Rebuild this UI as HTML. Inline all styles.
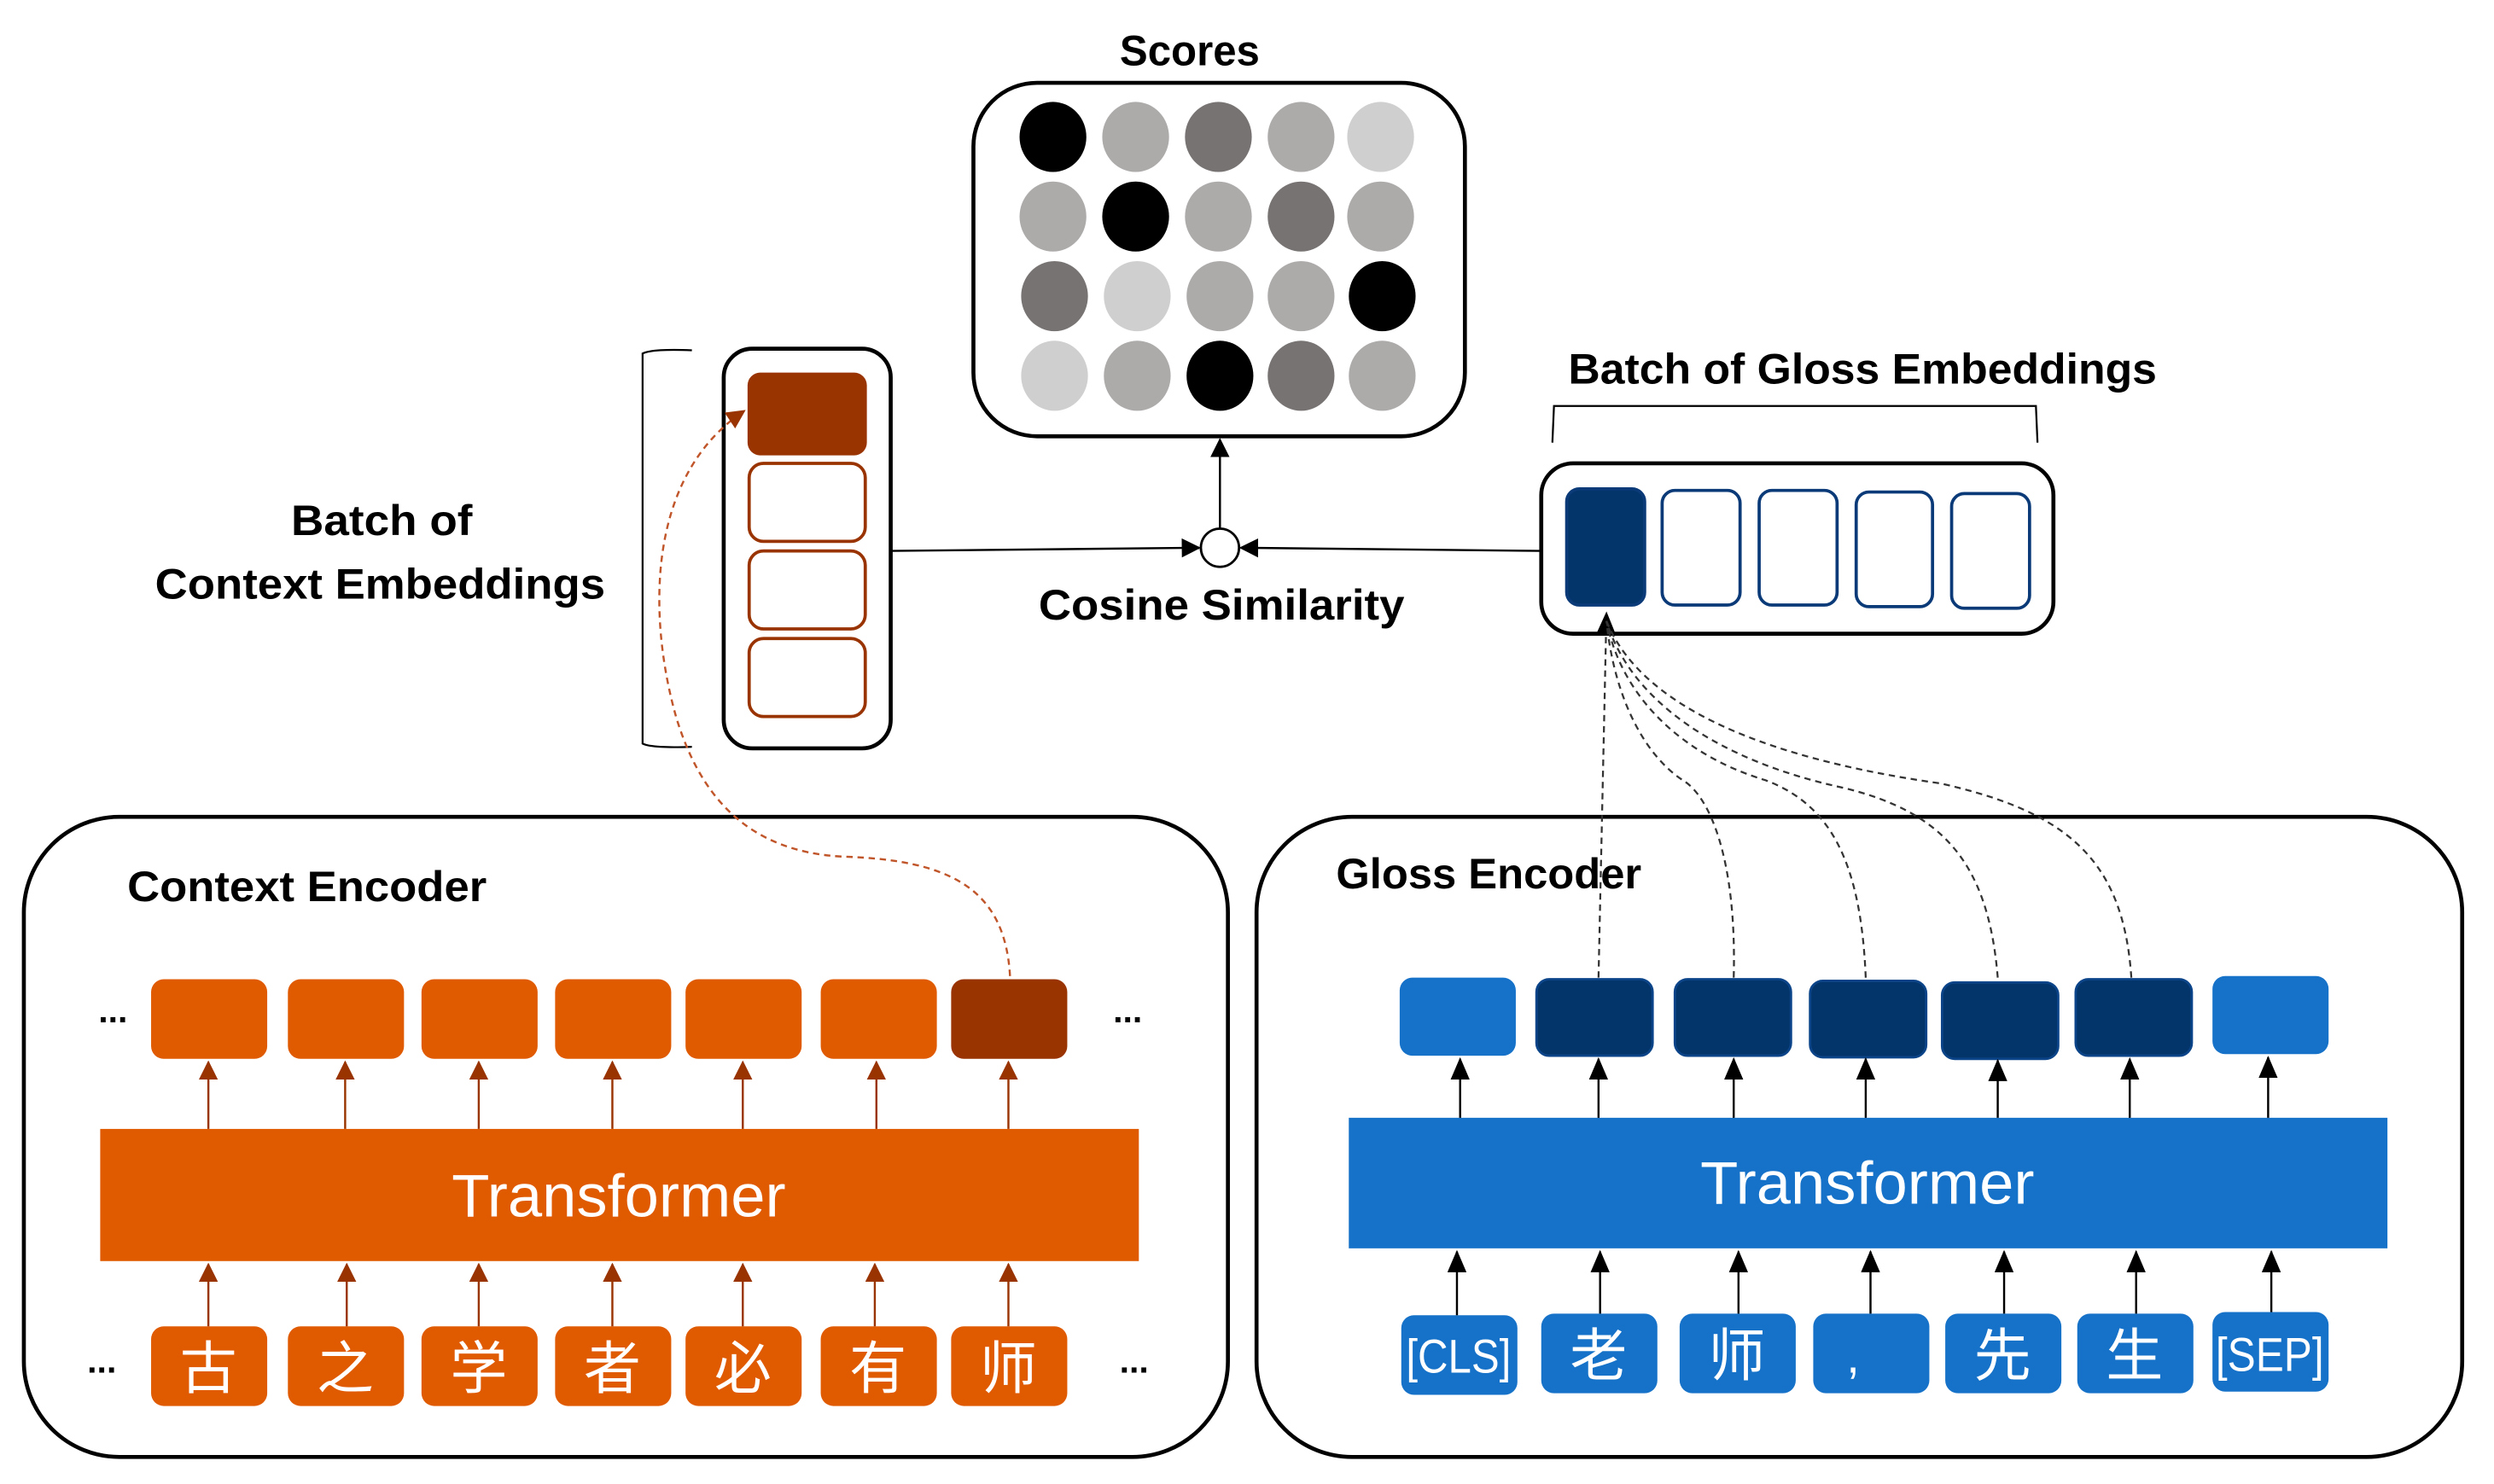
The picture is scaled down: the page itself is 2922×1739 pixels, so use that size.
<!DOCTYPE html>
<html><head><meta charset="utf-8"><style>
html,body{margin:0;padding:0;background:#fff;}
svg{display:block;}
text{font-family:"Liberation Sans","Noto Sans CJK SC",sans-serif;}
</style></head><body>
<svg width="2922" height="1739" viewBox="0 0 1568 932" preserveAspectRatio="none" xmlns="http://www.w3.org/2000/svg">
<defs>
<marker id="ab" markerWidth="12" markerHeight="12" refX="11" refY="6" orient="auto" markerUnits="userSpaceOnUse"><path d="M0,0 L12,6 L0,12 Z" fill="#000"/></marker>
<marker id="ao" markerWidth="12" markerHeight="12" refX="11" refY="6" orient="auto" markerUnits="userSpaceOnUse"><path d="M0,0 L12,6 L0,12 Z" fill="#993300"/></marker>
<marker id="ak" markerWidth="14" markerHeight="12" refX="13" refY="6" orient="auto" markerUnits="userSpaceOnUse"><path d="M0,0 L14,6 L0,12 Z" fill="#000"/></marker>
</defs>

<!-- Scores -->
<text x="748" y="41" text-anchor="middle" font-size="27" font-weight="bold" textLength="88" lengthAdjust="spacingAndGlyphs">Scores</text>
<rect x="612" y="52" width="309" height="222" rx="40" fill="#fff" stroke="#000" stroke-width="2.5"/>
<g>
<ellipse cx="662" cy="86" rx="21" ry="22" fill="#000"/>
<ellipse cx="714" cy="86" rx="21" ry="22" fill="#adaaaa"/>
<ellipse cx="766" cy="86" rx="21" ry="22" fill="#787373"/>
<ellipse cx="818" cy="86" rx="21" ry="22" fill="#adaaaa"/>
<ellipse cx="868" cy="86" rx="21" ry="22" fill="#d0cfcf"/>
<ellipse cx="662" cy="136" rx="21" ry="22" fill="#adaaaa"/>
<ellipse cx="714" cy="136" rx="21" ry="22" fill="#000"/>
<ellipse cx="766" cy="136" rx="21" ry="22" fill="#adaaaa"/>
<ellipse cx="818" cy="136" rx="21" ry="22" fill="#787373"/>
<ellipse cx="868" cy="136" rx="21" ry="22" fill="#adaaaa"/>
<ellipse cx="663" cy="186" rx="21" ry="22" fill="#787373"/>
<ellipse cx="715" cy="186" rx="21" ry="22" fill="#d0cfcf"/>
<ellipse cx="767" cy="186" rx="21" ry="22" fill="#adaaaa"/>
<ellipse cx="818" cy="186" rx="21" ry="22" fill="#adaaaa"/>
<ellipse cx="869" cy="186" rx="21" ry="22" fill="#000"/>
<ellipse cx="663" cy="236" rx="21" ry="22" fill="#d0cfcf"/>
<ellipse cx="715" cy="236" rx="21" ry="22" fill="#adaaaa"/>
<ellipse cx="767" cy="236" rx="21" ry="22" fill="#000"/>
<ellipse cx="818" cy="236" rx="21" ry="22" fill="#787373"/>
<ellipse cx="869" cy="236" rx="21" ry="22" fill="#adaaaa"/>
</g>

<!-- cosine -->
<line x1="767" y1="332" x2="767" y2="276" stroke="#000" stroke-width="1.3" marker-end="url(#ab)"/>
<circle cx="767" cy="344" r="12" fill="#fff" stroke="#000" stroke-width="1.5"/>
<line x1="560" y1="346" x2="754" y2="344" stroke="#000" stroke-width="1.3" marker-end="url(#ab)"/>
<line x1="969" y1="346" x2="780" y2="344" stroke="#000" stroke-width="1.3" marker-end="url(#ab)"/>
<text x="768" y="389" text-anchor="middle" font-size="27" font-weight="bold" textLength="230" lengthAdjust="spacingAndGlyphs">Cosine Similarity</text>

<!-- context batch -->
<path d="M435,220 Q410,219 404,222 L404,467 Q410,470 435,469" fill="none" stroke="#000" stroke-width="1.2"/>
<text x="240" y="336" text-anchor="middle" font-size="27" font-weight="bold" textLength="114" lengthAdjust="spacingAndGlyphs">Batch of</text>
<text x="239" y="376" text-anchor="middle" font-size="27" font-weight="bold" textLength="283" lengthAdjust="spacingAndGlyphs">Context Embeddings</text>
<rect x="455" y="219" width="105" height="251" rx="18" fill="#fff" stroke="#000" stroke-width="2.5"/>
<rect x="470" y="234" width="75" height="52" rx="8" fill="#993300"/>
<rect x="471" y="291" width="73" height="49" rx="9" fill="#fff" stroke="#993300" stroke-width="2"/>
<rect x="471" y="346" width="73" height="49" rx="9" fill="#fff" stroke="#993300" stroke-width="2"/>
<rect x="471" y="401" width="73" height="49" rx="9" fill="#fff" stroke="#993300" stroke-width="2"/>

<!-- gloss batch -->
<path d="M976,278 L977,255 L1280,255 L1281,278" fill="none" stroke="#000" stroke-width="1.2"/>
<text x="1171" y="241" text-anchor="middle" font-size="27" font-weight="bold" textLength="370" lengthAdjust="spacingAndGlyphs">Batch of Gloss Embeddings</text>
<rect x="969" y="291" width="322" height="107" rx="20" fill="#fff" stroke="#000" stroke-width="2.5"/>
<rect x="985" y="307" width="49" height="73" rx="8" fill="#03356a" stroke="#0b3a78" stroke-width="2"/>
<rect x="1045" y="308" width="49" height="72" rx="8" fill="#fff" stroke="#0b3a78" stroke-width="2"/>
<rect x="1106" y="308" width="49" height="72" rx="8" fill="#fff" stroke="#0b3a78" stroke-width="2"/>
<rect x="1167" y="309" width="48" height="72" rx="8" fill="#fff" stroke="#0b3a78" stroke-width="2"/>
<rect x="1227" y="310" width="49" height="72" rx="8" fill="#fff" stroke="#0b3a78" stroke-width="2"/>

<!-- context encoder -->
<rect x="15" y="513" width="757" height="402" rx="60" fill="#fff" stroke="#000" stroke-width="2.5"/>
<text x="80" y="566" font-size="27" font-weight="bold" textLength="226" lengthAdjust="spacingAndGlyphs">Context Encoder</text>
<g fill="#e05a00">
<rect x="95" y="615" width="73" height="50" rx="8"/>
<rect x="181" y="615" width="73" height="50" rx="8"/>
<rect x="265" y="615" width="73" height="50" rx="8"/>
<rect x="349" y="615" width="73" height="50" rx="8"/>
<rect x="431" y="615" width="73" height="50" rx="8"/>
<rect x="516" y="615" width="73" height="50" rx="8"/>
<rect x="598" y="615" width="73" height="50" rx="8" fill="#993300"/>
<rect x="63" y="709" width="653" height="83"/>
<rect x="95" y="833" width="73" height="50" rx="8"/>
<rect x="181" y="833" width="73" height="50" rx="8"/>
<rect x="265" y="833" width="73" height="50" rx="8"/>
<rect x="349" y="833" width="73" height="50" rx="8"/>
<rect x="431" y="833" width="73" height="50" rx="8"/>
<rect x="516" y="833" width="73" height="50" rx="8"/>
<rect x="598" y="833" width="73" height="50" rx="8"/>
</g>
<text x="389" y="764" text-anchor="middle" font-size="38" fill="#fff" textLength="210" lengthAdjust="spacingAndGlyphs">Transformer</text>
<g font-size="36" fill="#fff" text-anchor="middle">
<text x="131" y="872">古</text><text x="217" y="872">之</text><text x="301" y="872">学</text><text x="385" y="872">者</text><text x="467" y="872">必</text><text x="552" y="872">有</text><text x="634" y="872">师</text>
</g>
<g font-size="22" font-weight="bold" fill="#000" text-anchor="middle">
<text x="71" y="642">...</text><text x="709" y="642">...</text><text x="64" y="862">...</text><text x="713" y="862">...</text>
</g>
<g stroke="#993300" stroke-width="1.3">
<line x1="131" y1="709" x2="131" y2="667" marker-end="url(#ao)"/>
<line x1="217" y1="709" x2="217" y2="667" marker-end="url(#ao)"/>
<line x1="301" y1="709" x2="301" y2="667" marker-end="url(#ao)"/>
<line x1="385" y1="709" x2="385" y2="667" marker-end="url(#ao)"/>
<line x1="467" y1="709" x2="467" y2="667" marker-end="url(#ao)"/>
<line x1="551" y1="709" x2="551" y2="667" marker-end="url(#ao)"/>
<line x1="634" y1="709" x2="634" y2="667" marker-end="url(#ao)"/>
<line x1="131" y1="833" x2="131" y2="794" marker-end="url(#ao)"/>
<line x1="218" y1="833" x2="218" y2="794" marker-end="url(#ao)"/>
<line x1="301" y1="833" x2="301" y2="794" marker-end="url(#ao)"/>
<line x1="385" y1="833" x2="385" y2="794" marker-end="url(#ao)"/>
<line x1="467" y1="833" x2="467" y2="794" marker-end="url(#ao)"/>
<line x1="550" y1="833" x2="550" y2="794" marker-end="url(#ao)"/>
<line x1="634" y1="833" x2="634" y2="794" marker-end="url(#ao)"/>
</g>
<path d="M635,613 C632,560 600,540 530,538 C470,535 440,500 425,450 C408,390 405,300 468,258" fill="none" stroke="#c0552a" stroke-width="1.3" stroke-dasharray="4,3" marker-end="url(#ao)"/>

<!-- gloss encoder -->
<rect x="790" y="513" width="758" height="402" rx="60" fill="#fff" stroke="#000" stroke-width="2.5"/>
<text x="840" y="558" font-size="27" font-weight="bold" textLength="192" lengthAdjust="spacingAndGlyphs">Gloss Encoder</text>
<g>
<rect x="880" y="614" width="73" height="49" rx="8" fill="#1672c8"/>
<rect x="966" y="615" width="73" height="48" rx="8" fill="#03356a" stroke="#0b4488" stroke-width="1.5"/>
<rect x="1053" y="615" width="73" height="48" rx="8" fill="#03356a" stroke="#0b4488" stroke-width="1.5"/>
<rect x="1138" y="616" width="73" height="48" rx="8" fill="#03356a" stroke="#0b4488" stroke-width="1.5"/>
<rect x="1221" y="617" width="73" height="48" rx="8" fill="#03356a" stroke="#0b4488" stroke-width="1.5"/>
<rect x="1305" y="615" width="73" height="48" rx="8" fill="#03356a" stroke="#0b4488" stroke-width="1.5"/>
<rect x="1391" y="613" width="73" height="49" rx="8" fill="#1672c8"/>
<rect x="848" y="702" width="653" height="82" fill="#1672c8"/>
<g fill="#1672c8">
<rect x="881" y="826" width="73" height="50" rx="8"/>
<rect x="969" y="825" width="73" height="50" rx="8"/>
<rect x="1056" y="825" width="73" height="50" rx="8"/>
<rect x="1140" y="825" width="73" height="50" rx="8"/>
<rect x="1223" y="825" width="73" height="50" rx="8"/>
<rect x="1306" y="825" width="73" height="50" rx="8"/>
<rect x="1391" y="824" width="73" height="50" rx="8"/>
</g>
</g>
<text x="1174" y="756" text-anchor="middle" font-size="38" fill="#fff" textLength="210" lengthAdjust="spacingAndGlyphs">Transformer</text>
<g fill="#fff" text-anchor="middle">
<text x="917" y="862" font-size="30" textLength="66" lengthAdjust="spacingAndGlyphs">[CLS]</text>
<text x="1005" y="864" font-size="36">老</text>
<text x="1092" y="864" font-size="36">师</text>
<text x="1165" y="862" font-size="30">,</text>
<text x="1259" y="864" font-size="36">先</text>
<text x="1342" y="864" font-size="36">生</text>
<text x="1427" y="861" font-size="30" textLength="68" lengthAdjust="spacingAndGlyphs">[SEP]</text>
</g>
<g stroke="#000" stroke-width="1.3">
<line x1="918" y1="702" x2="918" y2="665" marker-end="url(#ak)"/>
<line x1="1005" y1="702" x2="1005" y2="665" marker-end="url(#ak)"/>
<line x1="1090" y1="702" x2="1090" y2="665" marker-end="url(#ak)"/>
<line x1="1173" y1="702" x2="1173" y2="665" marker-end="url(#ak)"/>
<line x1="1256" y1="702" x2="1256" y2="666" marker-end="url(#ak)"/>
<line x1="1339" y1="702" x2="1339" y2="665" marker-end="url(#ak)"/>
<line x1="1426" y1="702" x2="1426" y2="664" marker-end="url(#ak)"/>
<line x1="916" y1="826" x2="916" y2="786" marker-end="url(#ak)"/>
<line x1="1006" y1="825" x2="1006" y2="786" marker-end="url(#ak)"/>
<line x1="1093" y1="825" x2="1093" y2="786" marker-end="url(#ak)"/>
<line x1="1176" y1="825" x2="1176" y2="786" marker-end="url(#ak)"/>
<line x1="1260" y1="825" x2="1260" y2="786" marker-end="url(#ak)"/>
<line x1="1343" y1="825" x2="1343" y2="786" marker-end="url(#ak)"/>
<line x1="1428" y1="824" x2="1428" y2="786" marker-end="url(#ak)"/>
</g>
<g fill="none" stroke="#333" stroke-width="1.2" stroke-dasharray="4,3">
<path d="M1005,614 L1010,385" marker-end="url(#ak)"/>
<path d="M1090,614 C1092,540 1075,500 1058,490 C1035,475 1015,440 1010,390"/>
<path d="M1173,614 C1170,540 1150,505 1110,490 C1060,475 1020,440 1010,390"/>
<path d="M1256,614 C1250,540 1220,510 1160,495 C1080,478 1025,440 1010,390"/>
<path d="M1340,614 C1335,540 1300,510 1220,492 C1100,475 1030,440 1010,390"/>
</g>
</svg>
</body></html>
